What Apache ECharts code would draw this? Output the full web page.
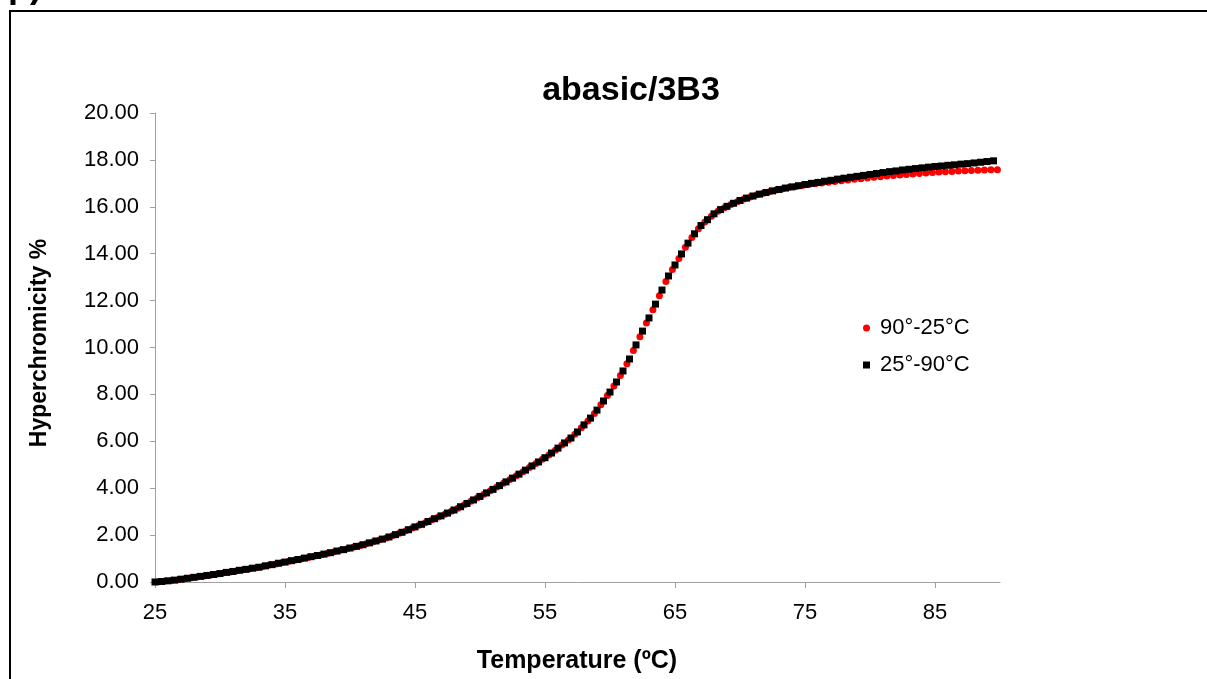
<!DOCTYPE html>
<html>
<head>
<meta charset="utf-8">
<title>abasic/3B3</title>
<script src="https://cdn.jsdelivr.net/npm/echarts@6/dist/echarts.min.js"></script>
<style>
  html, body { margin: 0; padding: 0; background: #fff; }
  #chart { width: 1207px; height: 679px; }
</style>
</head>
<body>
<div id="chart"></div>
<script>
// Melting curve of abasic/3B3: hyperchromicity (%) against temperature (°C)
const chartTitle = 'abasic/3B3';
const xAxisTitle = 'Temperature (ºC)';
const yAxisTitle = 'Hyperchromicity %';
const seriesNames = ['90°-25°C', '25°-90°C'];

const xTickValues = [25, 35, 45, 55, 65, 75, 85];
const yTickValues = [0, 2, 4, 6, 8, 10, 12, 14, 16, 18, 20];

// Cooling ramp, 90°C down to 25°C
const tempsCooling = [
  25.3, 25.8, 26.3, 26.8, 27.3, 27.8, 28.3, 28.8, 29.3, 29.8,
  30.3, 30.8, 31.3, 31.8, 32.3, 32.8, 33.3, 33.8, 34.3, 34.8,
  35.3, 35.8, 36.3, 36.8, 37.3, 37.8, 38.3, 38.8, 39.3, 39.8,
  40.3, 40.8, 41.3, 41.8, 42.3, 42.8, 43.3, 43.8, 44.3, 44.8,
  45.3, 45.8, 46.3, 46.8, 47.3, 47.8, 48.3, 48.8, 49.3, 49.8,
  50.3, 50.8, 51.3, 51.8, 52.3, 52.8, 53.3, 53.8, 54.3, 54.8,
  55.3, 55.8, 56.3, 56.8, 57.3, 57.8, 58.3, 58.8, 59.3, 59.8,
  60.3, 60.8, 61.3, 61.8, 62.3, 62.8, 63.3, 63.8, 64.3, 64.8,
  65.3, 65.8, 66.3, 66.8, 67.3, 67.8, 68.3, 68.8, 69.3, 69.8,
  70.3, 70.8, 71.3, 71.8, 72.3, 72.8, 73.3, 73.8, 74.3, 74.8,
  75.3, 75.8, 76.3, 76.8, 77.3, 77.8, 78.3, 78.8, 79.3, 79.8,
  80.3, 80.8, 81.3, 81.8, 82.3, 82.8, 83.3, 83.8, 84.3, 84.8,
  85.3, 85.8, 86.3, 86.8, 87.3, 87.8, 88.3, 88.8, 89.3, 89.8
];
const hyperCooling = [
  0.01, 0.04, 0.07, 0.10, 0.14, 0.18, 0.22, 0.26, 0.30, 0.34,
  0.39, 0.43, 0.48, 0.52, 0.57, 0.61, 0.66, 0.72, 0.77, 0.83,
  0.88, 0.94, 0.99, 1.05, 1.11, 1.16, 1.23, 1.29, 1.36, 1.42,
  1.49, 1.56, 1.64, 1.72, 1.80, 1.88, 1.98, 2.08, 2.19, 2.30,
  2.42, 2.53, 2.65, 2.77, 2.89, 3.02, 3.15, 3.29, 3.44, 3.59,
  3.74, 3.89, 4.05, 4.21, 4.37, 4.53, 4.70, 4.88, 5.05, 5.23,
  5.42, 5.62, 5.84, 6.06, 6.30, 6.58, 6.87, 7.19, 7.56, 7.95,
  8.36, 8.81, 9.31, 9.87, 10.46, 11.04, 11.61, 12.21, 12.81, 13.33,
  13.80, 14.27, 14.69, 15.06, 15.35, 15.60, 15.81, 15.96, 16.10, 16.22,
  16.33, 16.42, 16.51, 16.58, 16.65, 16.72, 16.77, 16.83, 16.87, 16.91,
  16.95, 16.98, 17.01, 17.05, 17.08, 17.11, 17.14, 17.17, 17.20, 17.23,
  17.26, 17.28, 17.31, 17.34, 17.36, 17.38, 17.40, 17.42, 17.44, 17.46,
  17.48, 17.50, 17.51, 17.53, 17.54, 17.55, 17.56, 17.57, 17.58, 17.58
];

// Heating ramp, 25°C up to 90°C
const tempsHeating = [
  25.0, 25.5, 26.0, 26.5, 27.0, 27.5, 28.0, 28.5, 29.0, 29.5,
  30.0, 30.5, 31.0, 31.5, 32.0, 32.5, 33.0, 33.5, 34.0, 34.5,
  35.0, 35.5, 36.0, 36.5, 37.0, 37.5, 38.0, 38.5, 39.0, 39.5,
  40.0, 40.5, 41.0, 41.5, 42.0, 42.5, 43.0, 43.5, 44.0, 44.5,
  45.0, 45.5, 46.0, 46.5, 47.0, 47.5, 48.0, 48.5, 49.0, 49.5,
  50.0, 50.5, 51.0, 51.5, 52.0, 52.5, 53.0, 53.5, 54.0, 54.5,
  55.0, 55.5, 56.0, 56.5, 57.0, 57.5, 58.0, 58.5, 59.0, 59.5,
  60.0, 60.5, 61.0, 61.5, 62.0, 62.5, 63.0, 63.5, 64.0, 64.5,
  65.0, 65.5, 66.0, 66.5, 67.0, 67.5, 68.0, 68.5, 69.0, 69.5,
  70.0, 70.5, 71.0, 71.5, 72.0, 72.5, 73.0, 73.5, 74.0, 74.5,
  75.0, 75.5, 76.0, 76.5, 77.0, 77.5, 78.0, 78.5, 79.0, 79.5,
  80.0, 80.5, 81.0, 81.5, 82.0, 82.5, 83.0, 83.5, 84.0, 84.5,
  85.0, 85.5, 86.0, 86.5, 87.0, 87.5, 88.0, 88.5, 89.0, 89.5
];
const hyperHeating = [
  0.00, 0.02, 0.05, 0.08, 0.12, 0.16, 0.20, 0.24, 0.28, 0.32,
  0.36, 0.41, 0.45, 0.50, 0.54, 0.59, 0.63, 0.69, 0.74, 0.80,
  0.85, 0.91, 0.96, 1.02, 1.08, 1.13, 1.19, 1.25, 1.32, 1.38,
  1.45, 1.52, 1.59, 1.67, 1.75, 1.83, 1.92, 2.02, 2.12, 2.23,
  2.35, 2.46, 2.58, 2.70, 2.82, 2.94, 3.07, 3.21, 3.35, 3.50,
  3.65, 3.80, 3.95, 4.11, 4.27, 4.43, 4.60, 4.77, 4.95, 5.12,
  5.30, 5.50, 5.71, 5.93, 6.14, 6.40, 6.70, 6.99, 7.33, 7.72,
  8.10, 8.53, 9.00, 9.51, 10.11, 10.70, 11.26, 11.85, 12.45, 13.05,
  13.52, 13.99, 14.45, 14.85, 15.20, 15.45, 15.70, 15.88, 16.02, 16.15,
  16.27, 16.37, 16.46, 16.54, 16.61, 16.68, 16.74, 16.80, 16.85, 16.90,
  16.95, 17.00, 17.04, 17.09, 17.13, 17.18, 17.22, 17.26, 17.30, 17.34,
  17.38, 17.42, 17.46, 17.50, 17.53, 17.57, 17.60, 17.63, 17.66, 17.69,
  17.72, 17.74, 17.77, 17.79, 17.82, 17.84, 17.87, 17.90, 17.93, 17.96
];

const pairs = (xs, ys) => xs.map((x, i) => [x, ys[i]]);

const FONT = '"Liberation Sans", Arial, sans-serif';
const AXIS_GREY = '#a0a0a0';

const chart = echarts.init(document.getElementById('chart'), null, { renderer: 'canvas' });

chart.setOption({
  animation: false,
  backgroundColor: '#ffffff',
  textStyle: { fontFamily: FONT, color: '#000' },
  title: {
    text: chartTitle,
    left: 626,
    top: 69,
    textAlign: 'center',
    textStyle: { fontFamily: FONT, fontSize: 34, fontWeight: 'bold', color: '#000' }
  },
  grid: { left: 155, right: 207, top: 113, bottom: 97, containLabel: false },
  legend: {
    orient: 'vertical',
    left: 858,
    top: 311,
    itemWidth: 7,
    itemHeight: 7,
    itemGap: 13,
    data: [
      { name: seriesNames[0], icon: 'circle' },
      { name: seriesNames[1], icon: 'rect' }
    ],
    textStyle: { fontFamily: FONT, fontSize: 22, lineHeight: 22, color: '#000', padding: [2, 0, 0, 5] }
  },
  xAxis: {
    type: 'value',
    min: 25,
    max: 90,
    interval: 10,
    axisLine: { show: true, lineStyle: { color: AXIS_GREY, width: 1 } },
    axisTick: { show: true, length: 6, customValues: xTickValues, lineStyle: { color: AXIS_GREY } },
    axisLabel: { customValues: xTickValues, margin: 20, fontFamily: FONT, fontSize: 22, color: '#000' },
    splitLine: { show: false }
  },
  yAxis: {
    type: 'value',
    min: 0,
    max: 20,
    interval: 2,
    axisLine: { show: true, lineStyle: { color: AXIS_GREY, width: 1 } },
    axisTick: { show: true, length: 5, customValues: yTickValues, lineStyle: { color: AXIS_GREY } },
    axisLabel: {
      customValues: yTickValues,
      margin: 16,
      fontFamily: FONT,
      fontSize: 22,
      color: '#000',
      formatter: v => v.toFixed(2)
    },
    splitLine: { show: false }
  },
  graphic: [
    {
      type: 'rect',
      shape: { x: 10, y: 11, width: 1400, height: 900 },
      style: { fill: 'none', stroke: '#000', lineWidth: 2 },
      silent: true,
      z: 10
    },
    {
      type: 'text',
      x: 8,
      y: 5,
      style: { text: 'p)', font: 'bold 36px ' + FONT, fill: '#000', verticalAlign: 'bottom' },
      silent: true
    },
    {
      type: 'text',
      x: 40,
      y: 343,
      rotation: Math.PI / 2,
      style: {
        text: yAxisTitle,
        font: 'bold 23px ' + FONT,
        fill: '#000',
        align: 'center',
        verticalAlign: 'middle'
      },
      silent: true
    },
    {
      type: 'text',
      x: 577,
      y: 661,
      style: {
        text: xAxisTitle,
        font: 'bold 25px ' + FONT,
        fill: '#000',
        align: 'center',
        verticalAlign: 'middle'
      },
      silent: true
    }
  ],
  series: [
    {
      name: seriesNames[0],
      type: 'scatter',
      symbol: 'circle',
      symbolSize: 7,
      itemStyle: { color: '#ff0000', opacity: 1 },
      data: pairs(tempsCooling, hyperCooling),
      z: 2
    },
    {
      name: seriesNames[1],
      type: 'scatter',
      symbol: 'rect',
      symbolSize: 7,
      itemStyle: { color: '#000000', opacity: 1 },
      data: pairs(tempsHeating, hyperHeating),
      z: 3
    }
  ]
});
</script>
</body>
</html>
